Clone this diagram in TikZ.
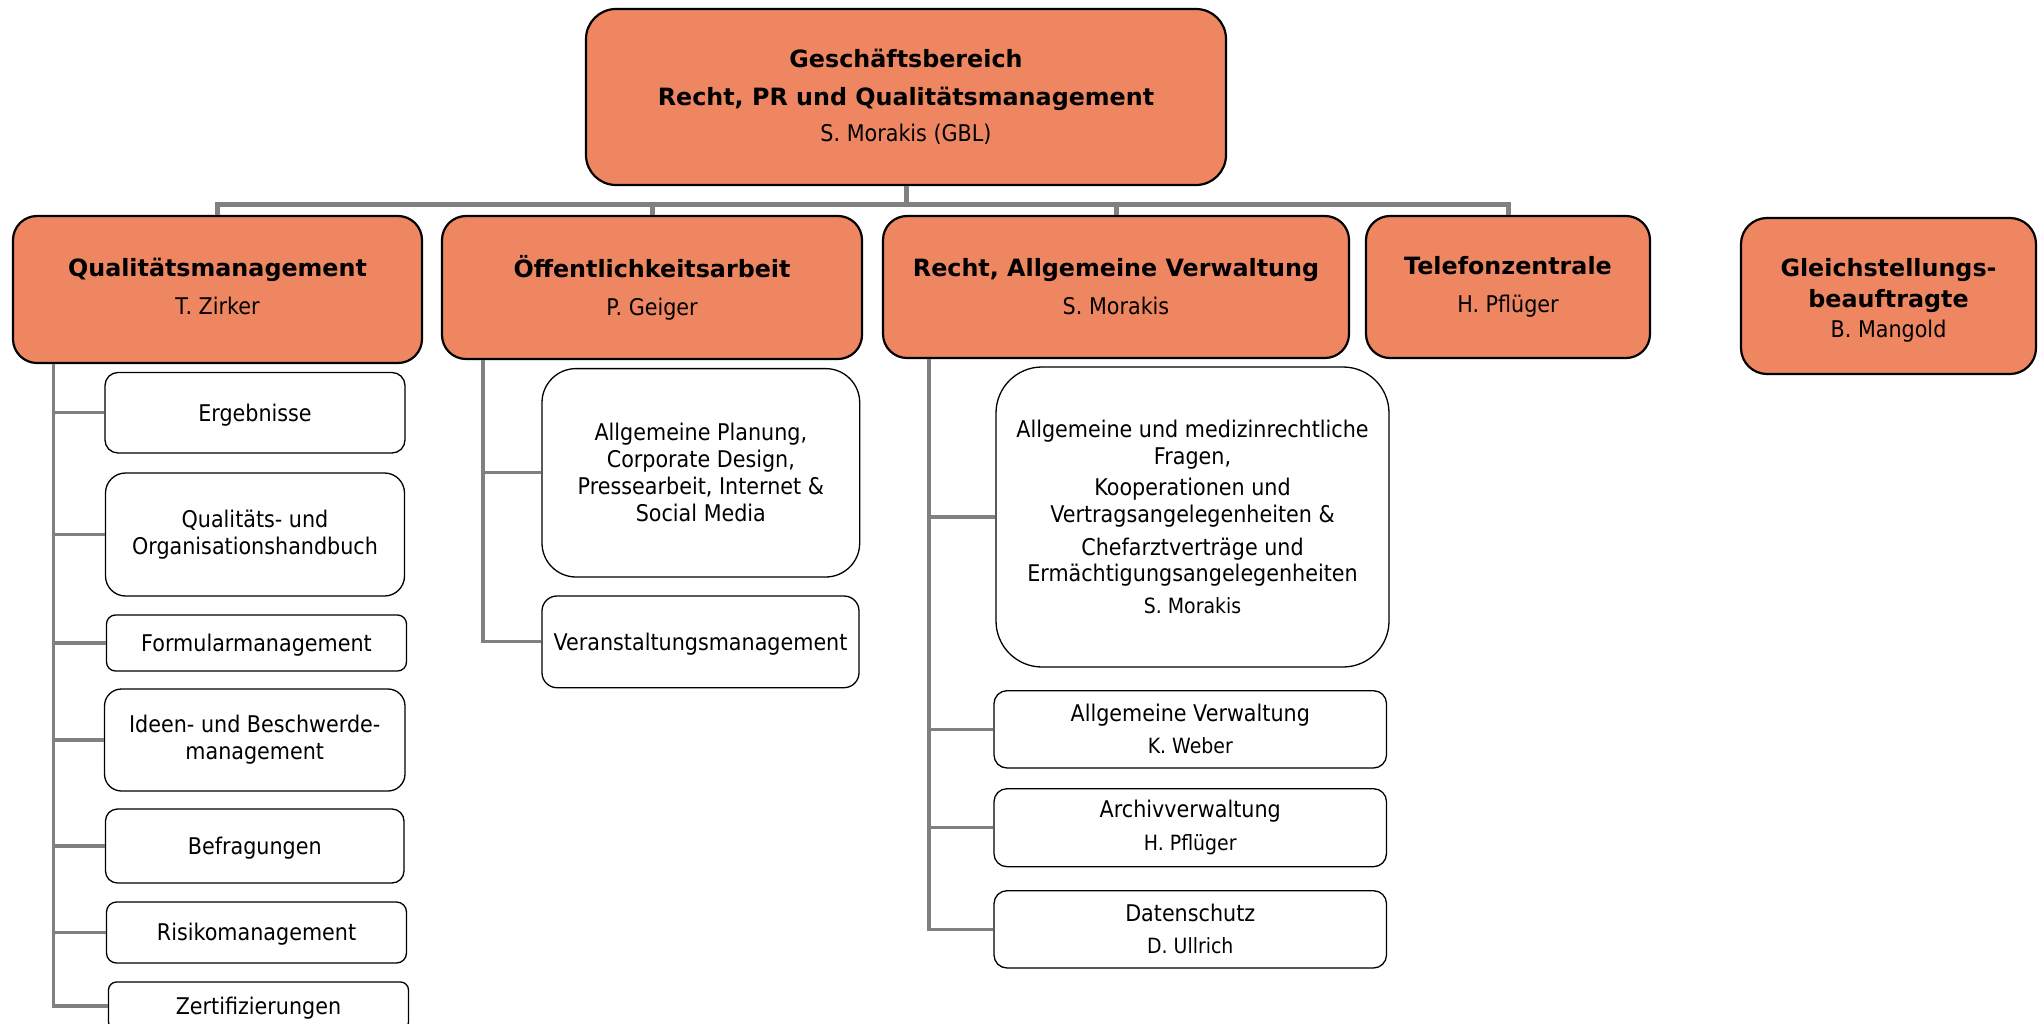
\documentclass[tikz,border=0pt]{standalone}
\usepackage{fontspec}
\setmainfont{DejaVu Sans}[FakeStretch=0.9]
\newfontfamily\hbfam{DejaVu Sans}
\newcommand\hbold[1]{{\hbfam\bfseries\fontsize{23.8}{27}\selectfont #1}}
\newcommand\smallname[1]{{\fontsize{21}{25}\selectfont #1}}
\definecolor{org}{HTML}{EE8662}
\definecolor{lgray}{HTML}{808080}
\begin{document}
\begin{tikzpicture}[x=1pt,y=-1pt,
  font=\fontsize{23}{27}\selectfont,
  hbox/.style={draw=black, line width=2.2pt, fill=org, align=center, inner sep=0pt},
  cbox/.style={draw=black, line width=1.3pt, fill=white, align=center, inner sep=0pt},
  oneline/.style={text height=16.7pt, text depth=0pt},
  bus/.style={draw=lgray, line width=5pt, line join=miter},
  br/.style={draw=lgray, line width=3.2pt, line join=miter}]
\useasboundingbox (0,0) rectangle (2042,1024);
\clip (0,0) rectangle (2042,1024);

% level 1
\node[hbox, minimum width=640, minimum height=176, rounded corners=30] (top) at (906,97)
  {\hbold{Geschäftsbereich}\\[11pt]\hbold{Recht, PR und Qualitätsmanagement}\\[9pt]S. Morakis (GBL)};

% level 2
\node[hbox, minimum width=409, minimum height=147, rounded corners=24] (qm) at (217.5,289.5)
  {\hbold{Qualitätsmanagement}\\[11pt]T. Zirker\rule[-7pt]{0pt}{0pt}};
\node[hbox, minimum width=420, minimum height=143, rounded corners=24] (oa) at (652,287.5)
  {\hbold{Öffentlichkeitsarbeit}\\[11pt]P. Geiger};
\node[hbox, minimum width=466, minimum height=142, rounded corners=24] (rv) at (1116,287)
  {\hbold{Recht, Allgemeine Verwaltung}\\[11pt]S. Morakis};
\node[hbox, minimum width=284, minimum height=142, rounded corners=24] (tel) at (1508,287)
  {\hbold{Telefonzentrale}\\[11pt]H. Pflüger};
\node[hbox, minimum width=295, minimum height=156, rounded corners=26] (gb) at (1888.5,296)
  {\rule{0pt}{26pt}\hbold{Gleichstellungs-}\\[4.5pt]\hbold{beauftragte}\\[2.5pt]B. Mangold};

% Qualitätsmanagement children
\node[cbox, oneline, minimum width=300, minimum height=80.5, rounded corners=13] (erg) at (255,412.75) {Ergebnisse};
\node[cbox, minimum width=299, minimum height=123, rounded corners=20] (qoh) at (255,534.5) {Qualitäts- und\\Organisationshandbuch};
\node[cbox, oneline, minimum width=300, minimum height=56, rounded corners=9] (frm) at (256.5,643) {Formularmanagement};
\node[cbox, minimum width=300.5, minimum height=102, rounded corners=17] (idn) at (254.75,740) {Ideen- und Beschwerde-\\management};
\node[cbox, oneline, minimum width=298.5, minimum height=74, rounded corners=12] (bfr) at (254.75,846) {Befragungen};
\node[cbox, oneline, minimum width=300, minimum height=61, rounded corners=10] (rsk) at (256.5,932.5) {Risikomanagement};
\node[cbox, oneline, minimum width=300, minimum height=48, rounded corners=8] (zrt) at (258.5,1006) {Zertifizierungen};

% Öffentlichkeitsarbeit children
\node[cbox, minimum width=317.7, minimum height=208.4, rounded corners=34] (pln) at (700.85,472.8)
  {Allgemeine Planung,\\Corporate Design,\\Pressearbeit, Internet \&\\Social Media};
\node[cbox, oneline, minimum width=317, minimum height=91.7, rounded corners=15] (vst) at (700.5,641.85) {Veranstaltungsmanagement};

% Recht children
\node[cbox, minimum width=393, minimum height=300, rounded corners=46,
      font=\fontsize{23}{26.5}\selectfont] (big) at (1192.5,517)
  {Allgemeine und medizinrechtliche\\Fragen,\\[5pt]Kooperationen und\\Vertragsangelegenheiten \&\\[6.5pt]Chefarztverträge und\\Ermächtigungsangelegenheiten\\[5pt]\smallname{S. Morakis}};
\node[cbox, minimum width=392.5, minimum height=77.3, rounded corners=13] (alv) at (1190.25,729.35)
  {Allgemeine Verwaltung\\[5pt]\smallname{K. Weber}};
\node[cbox, minimum width=392.5, minimum height=78, rounded corners=13] (arc) at (1190.25,827.7)
  {Archivverwaltung\\[6pt]\smallname{H. Pflüger}};
\node[cbox, minimum width=392.5, minimum height=77.3, rounded corners=13] (dsz) at (1190.25,929.35)
  {Datenschutz\\[5pt]\smallname{D. Ullrich}};

% bus connectors
\coordinate (busy) at (0,205);
\draw[bus] (top.south) -- (top.south |- busy);
\draw[bus] (qm.north) -- (qm.north |- busy) -- (tel.north |- busy) -- (tel.north);
\draw[bus] (oa.north |- busy) -- (oa.north);
\draw[bus] (rv.north |- busy) -- (rv.north);

% Qualitätsmanagement branches
\coordinate (qx) at (53.5,0);
\draw[br] (qm.south -| qx) |- (zrt.west);
\foreach \n in {erg,qoh,frm,idn,bfr,rsk} \draw[br] (\n.west -| qx) -- (\n.west);

% Öffentlichkeitsarbeit branches
\coordinate (ox) at (483,0);
\draw[br] (oa.south -| ox) |- (vst.west);
\draw[br] (pln.west -| ox) -- (pln.west);

% Recht branches
\coordinate (rx) at (929,0);
\draw[br] (rv.south -| rx) |- (dsz.west);
\foreach \n in {big,alv,arc} \draw[br] (\n.west -| rx) -- (\n.west);
\end{tikzpicture}
\end{document}
